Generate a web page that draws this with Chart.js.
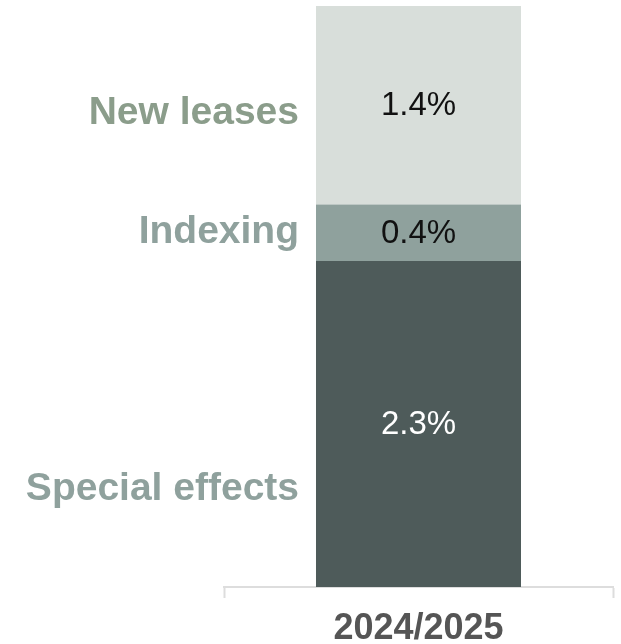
<!DOCTYPE html>
<html>
<head>
<meta charset="utf-8">
<script src="https://cdn.jsdelivr.net/npm/chart.js@4.4.1/dist/chart.umd.min.js"></script>
<style>
  html, body { margin: 0; padding: 0; background: #ffffff; }
  #wrap { width: 621px; height: 644px; }
</style>
</head>
<body>
<div id="wrap"><canvas id="rentChart"></canvas></div>
<script>
// Rent growth components, stacked from the bottom up
var periods = ['2024/2025'];
var componentNames = ['Special effects', 'Indexing', 'New leases'];
var specialEffects = [2.3];
var indexing = [0.4];
var newLeases = [1.4];

var barColors = ['#4e5b5a', '#8fa19d', '#d8deda'];
var nameColors = ['#8fa19d', '#8fa19d', '#8b9d8b'];
var valueColors = ['#ffffff', '#111111', '#111111'];
// where each side label sits inside its segment (0 = base, 1 = top)
var namePlace = [0.3, 0.5, 0.46];

var total = specialEffects[0] + indexing[0] + newLeases[0];

// draws the value inside each segment and the component name to the left of the bar
var segmentLabels = {
    id: 'segmentLabels',
    afterDatasetsDraw: function(chart) {
        var ctx = chart.ctx;
        ctx.save();
        chart.data.datasets.forEach(function(ds, i) {
            var bar = chart.getDatasetMeta(i).data[0];
            var top = bar.y, base = bar.base;
            var left = bar.x - bar.width / 2;

            ctx.textBaseline = 'middle';
            ctx.textAlign = 'center';
            ctx.fillStyle = valueColors[i];
            ctx.font = '33px "Liberation Sans", Arial, sans-serif';
            ctx.fillText(ds.data[0].toFixed(1) + '%', bar.x, (top + base) / 2 + 1);

            ctx.textAlign = 'right';
            ctx.fillStyle = nameColors[i];
            ctx.font = 'bold 39px "Liberation Sans", Arial, sans-serif';
            ctx.fillText(ds.label, left - 17, base - (base - top) * namePlace[i]);
        });
        ctx.restore();
    }
};

var ctx = document.getElementById('rentChart').getContext('2d');
var rentChart = new Chart(ctx, {
    type: 'bar',
    data: {
        labels: periods,
        datasets: [
            { label: componentNames[0], data: specialEffects, backgroundColor: barColors[0] },
            { label: componentNames[1], data: indexing, backgroundColor: barColors[1] },
            { label: componentNames[2], data: newLeases, backgroundColor: barColors[2] }
        ]
    },
    options: {
        responsive: true,
        maintainAspectRatio: false,
        animation: false,
        layout: { padding: { left: 224, right: 8, top: 6, bottom: -16 } },
        datasets: {
            bar: { categoryPercentage: 1.0, barPercentage: 0.527, borderWidth: 0 }
        },
        plugins: {
            legend: { display: false },
            tooltip: { enabled: false }
        },
        scales: {
            x: {
                stacked: true,
                border: { display: true, color: '#dddddd', width: 2 },
                grid: {
                    display: true,
                    offset: true,
                    drawOnChartArea: false,
                    drawTicks: true,
                    tickLength: 11,
                    tickWidth: 2,
                    tickColor: '#dddddd'
                },
                ticks: {
                    color: '#555555',
                    padding: 13,
                    font: { family: '"Liberation Sans", Arial, sans-serif', size: 36, weight: 'bold', lineHeight: 1.0 }
                }
            },
            y: {
                stacked: true,
                display: false,
                min: 0,
                max: total
            }
        }
    },
    plugins: [segmentLabels]
});
</script>
</body>
</html>
